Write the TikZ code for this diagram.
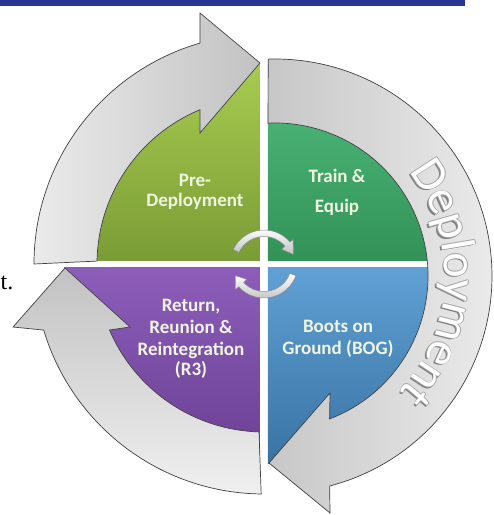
\documentclass[tikz,border=0pt]{standalone}
\usepackage{fontspec}
\setmainfont{Carlito}
\newfontfamily\serifA{Liberation Serif}
\usetikzlibrary{decorations.text}
\definecolor{barblue}{RGB}{40,52,148}
\definecolor{preT}{RGB}{168,204,80}
\definecolor{preB}{RGB}{122,156,54}
\definecolor{trT}{RGB}{82,190,128}
\definecolor{trB}{RGB}{50,146,88}
\definecolor{boT}{RGB}{96,160,212}
\definecolor{boB}{RGB}{56,114,162}
\definecolor{puT}{RGB}{140,94,186}
\definecolor{puB}{RGB}{106,62,146}
\definecolor{lbl}{RGB}{240,245,226}
\newcommand\depfont{\fontsize{48}{48}\selectfont}
\tikzset{
 band/.style={draw=black!75, line width=0.7pt},
 lab/.style={font=\bfseries\fontsize{19}{19}\selectfont, text=lbl, inner sep=0pt, anchor=base},
 mini/.style={draw=black!45, line width=0.5pt, top color=white, bottom color=black!25},
 deptext/.style={decorate, decoration={text along path, text align=center, text={|\depfont\color{#1}|Deployment}}},
}
\begin{document}
\begin{tikzpicture}[x=1pt,y=1pt]
\useasboundingbox (-264,-251) rectangle (230,264);
\fill[barblue] (-264,258) rectangle (201,264);
\node[font=\serifA\fontsize{24}{24}\selectfont, anchor=base west, inner sep=0pt] (tfrag) at (-263.5,-25) {t.};
% quadrants
\begin{scope}
\clip (0,0) circle (200pt);
\fill[top color=preT, bottom color=preB] (-204,3.5) rectangle (-4,204);
\fill[top color=trT, bottom color=trB] (4,3.5) rectangle (204,204);
\fill[top color=boT, bottom color=boB] (4,-3.5) rectangle (204,-204);
\fill[top color=puT, bottom color=puB] (-204,-3.5) rectangle (-4,-204);
\end{scope}
% arrow A (top-left)
\path[band, left color=black!8, right color=black!24] (180:230pt) arc[start angle=180, end angle=106.16, radius=230pt] -- (-64,251) -- (-4,201) -- (-64,131) -- (112.54:167pt) arc[start angle=112.54, end angle=179, radius=167pt] -- cycle;
% arrow B (bottom-left)
\path[band, top color=black!24, bottom color=black!6] (269.3:230pt) arc[start angle=269.3, end angle=196.7, radius=230pt] -- (-251,-63) -- (-199,-4) -- (-134,-63) -- (203.13:168pt) arc[start angle=203.13, end angle=268.3, radius=168pt] -- cycle;
% arrow C (right, Deployment)
\begin{scope}[shift={(11,-12)}]
\path[band, left color=black!22, right color=black!8] (91.8:217pt) arc[start angle=91.8, end angle=-75.4, radius=217pt] -- (55,-237) -- (-6,-187) -- (55,-117) -- (-69.1:153pt) arc[start angle=-69.1, end angle=92.6, radius=153pt] -- cycle;
\path[deptext=black!50] ([shift={(-1.8,-1.4)}]40:170pt) arc[start angle=40, end angle=-45, radius=170pt];
\path[deptext=black!35] ([shift={(0.8,0)}]40:170pt) arc[start angle=40, end angle=-45, radius=170pt];
\path[deptext=black!35] ([shift={(-0.8,0)}]40:170pt) arc[start angle=40, end angle=-45, radius=170pt];
\path[deptext=black!35] ([shift={(0,0.8)}]40:170pt) arc[start angle=40, end angle=-45, radius=170pt];
\path[deptext=black!35] ([shift={(0,-0.8)}]40:170pt) arc[start angle=40, end angle=-45, radius=170pt];
\path[deptext=white] (40:170pt) arc[start angle=40, end angle=-45, radius=170pt];
\end{scope}
% center small arrows
\path[mini] (155:27.5pt) arc[start angle=155, end angle=40, radius=27.5pt] -- (40:23pt) -- (18:31pt) -- (40:38pt) -- (40:34pt) arc[start angle=40, end angle=155, radius=34pt] -- cycle;
\path[mini] (-20:27.5pt) arc[start angle=-20, end angle=-138, radius=27.5pt] -- (-138:23pt) -- (-158:31pt) -- (-138:38pt) -- (-138:34pt) arc[start angle=-138, end angle=-20, radius=34pt] -- cycle;
% labels
\node[lab] (pre1) at (-69,78) {Pre-};
\node[lab] (pre2) at (-69,58) {Deployment};
\node[lab] (tr1) at (73,82) {Train \&};
\node[lab] (tr2) at (73,52) {Equip};
\node[lab] (ret1) at (-73,-47) {Return,};
\node[lab] (ret2) at (-73,-69) {Reunion \&};
\node[lab] (ret3) at (-73,-91) {Reintegration};
\node[lab] (ret4) at (-73,-111) {(R3)};
\node[lab] (bog1) at (74,-68) {Boots on};
\node[lab] (bog2) at (74,-90) {Ground (BOG)};
\end{tikzpicture}
\end{document}
